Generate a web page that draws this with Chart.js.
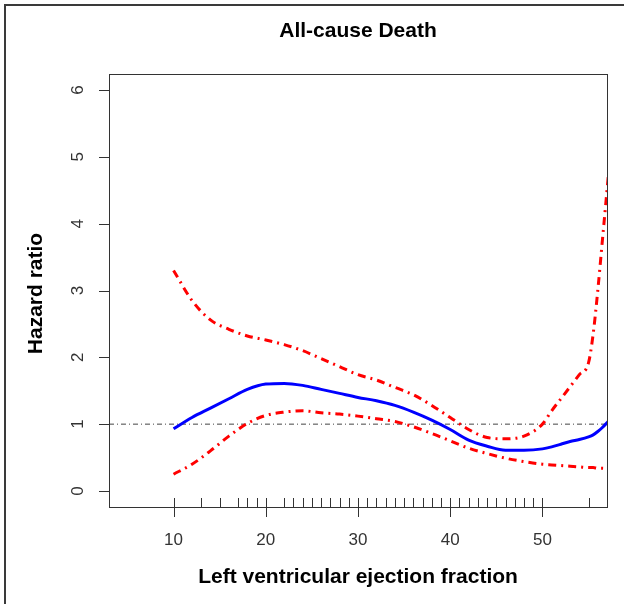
<!DOCTYPE html>
<html>
<head>
<meta charset="utf-8">
<title>All-cause Death</title>
<script src="https://cdn.jsdelivr.net/npm/chart.js@4.4.1/dist/chart.umd.min.js"></script>
<style>
  html, body { margin: 0; padding: 0; background: #fff; }
</style>
</head>
<body>
<canvas id="hr-chart" width="624" height="604"></canvas>
<script>
// LVEF grid and the spline estimates
var ejectionFraction = [10, 12, 14, 16, 18, 20, 22, 24, 26, 28, 30, 32, 34, 36, 38, 40, 42, 44, 46, 48, 50, 51, 52, 53, 54, 55, 55.5, 56, 56.5, 57.2];
var hazardRatio = [0.93, 1.10, 1.24, 1.38, 1.52, 1.60, 1.61, 1.58, 1.52, 1.46, 1.40, 1.35, 1.28, 1.18, 1.06, 0.92, 0.76, 0.67, 0.61, 0.61, 0.63, 0.66, 0.70, 0.74, 0.77, 0.81, 0.84, 0.89, 0.95, 1.05];
var upperCI = [3.30, 2.85, 2.56, 2.42, 2.32, 2.26, 2.19, 2.10, 1.98, 1.86, 1.74, 1.66, 1.55, 1.44, 1.28, 1.10, 0.92, 0.80, 0.78, 0.82, 1.00, 1.20, 1.38, 1.56, 1.74, 1.92, 2.35, 3.00, 3.75, 4.80];
var lowerCI = [0.25, 0.40, 0.60, 0.82, 1.01, 1.13, 1.18, 1.20, 1.17, 1.15, 1.12, 1.08, 1.04, 0.96, 0.86, 0.75, 0.64, 0.56, 0.49, 0.44, 0.40, 0.39, 0.38, 0.37, 0.36, 0.35, 0.35, 0.34, 0.34, 0.33];
var rugValues = [10, 13, 15, 17, 18, 19, 20, 22, 23, 24, 25, 26, 27, 28, 29, 30, 31, 32, 33, 34, 35, 36, 37, 38, 39, 40, 41, 42, 43, 44, 45, 46, 47, 48, 49, 50, 55];
var xTicks = [10, 20, 30, 40, 50];
var yTicks = [0, 1, 2, 3, 4, 5, 6];

function pts(ys) {
    return ejectionFraction.map(function (x, i) { return { x: x, y: ys[i] }; });
}

// R style frame: box, axes, rug, titles
var rFrame = {
    id: 'rFrame',
    afterDraw: function (chart) {
        var c = chart.ctx, a = chart.chartArea;
        var xs = chart.scales.x, ys = chart.scales.y;
        c.save();

        // outer border (left + top only)
        c.strokeStyle = '#3a3a3a';
        c.lineWidth = 2;
        c.beginPath();
        c.moveTo(5, 604); c.lineTo(5, 5); c.lineTo(624, 5);
        c.stroke();

        c.strokeStyle = '#333';
        c.lineWidth = 1;
        c.strokeRect(a.left + 0.5, a.top + 0.5, a.right - a.left, a.bottom - a.top);

        c.beginPath();
        rugValues.forEach(function (v) {
            var px = Math.round(xs.getPixelForValue(v)) + 0.5;
            c.moveTo(px, a.bottom - 9); c.lineTo(px, a.bottom);
        });
        xTicks.forEach(function (v) {
            var px = Math.round(xs.getPixelForValue(v)) + 0.5;
            c.moveTo(px, a.bottom); c.lineTo(px, a.bottom + 10);
        });
        yTicks.forEach(function (v) {
            var py = Math.round(ys.getPixelForValue(v)) + 0.5;
            c.moveTo(a.left - 10, py); c.lineTo(a.left, py);
        });
        c.stroke();

        c.fillStyle = '#333';
        c.font = '17px "Liberation Sans", Arial, sans-serif';
        c.textAlign = 'center';
        c.textBaseline = 'middle';
        xTicks.forEach(function (v) {
            c.fillText(String(v), xs.getPixelForValue(v), 540);
        });
        yTicks.forEach(function (v) {
            c.save();
            c.translate(78, ys.getPixelForValue(v));
            c.rotate(-Math.PI / 2);
            c.fillText(String(v), 0, 0);
            c.restore();
        });

        c.fillStyle = '#000';
        c.font = 'bold 21px "Liberation Sans", Arial, sans-serif';
        var mid = (a.left + a.right) / 2;
        c.fillText('All-cause Death', mid, 31);
        c.fillText('Left ventricular ejection fraction', mid, 577);
        c.save();
        c.translate(36, (a.top + a.bottom) / 2 + 3);
        c.rotate(-Math.PI / 2);
        c.fillText('Hazard ratio', 0, 0);
        c.restore();

        c.restore();
    }
};

var ctx = document.getElementById('hr-chart').getContext('2d');
var hrChart = new Chart(ctx, {
    type: 'line',
    data: {
        datasets: [
            {
                label: 'HR',
                data: pts(hazardRatio),
                borderColor: '#0000ff',
                borderWidth: 3,
                order: 0
            },
            {
                label: 'Upper 95% CI',
                data: pts(upperCI),
                borderColor: '#ff0000',
                borderWidth: 3,
                borderDash: [8, 5, 2, 5],
                order: 1
            },
            {
                label: 'Lower 95% CI',
                data: pts(lowerCI),
                borderColor: '#ff0000',
                borderWidth: 3,
                borderDash: [8, 5, 2, 5],
                order: 2
            },
            {
                label: 'HR = 1',
                data: [{ x: 3, y: 1 }, { x: 57, y: 1 }],
                borderColor: '#444',
                borderWidth: 1,
                borderDash: [5, 3, 1, 3],
                order: 3
            }
        ]
    },
    options: {
        responsive: false,
        animation: false,
        devicePixelRatio: 1,
        layout: { padding: { left: 109, top: 74, right: 17, bottom: 97 } },
        datasets: { line: { clip: 0, cubicInterpolationMode: 'monotone', pointRadius: 0, fill: false } },
        scales: {
            x: { type: 'linear', min: 3, max: 57, display: false },
            y: { type: 'linear', min: -0.24, max: 6.24, display: false }
        },
        plugins: {
            legend: { display: false },
            tooltip: { enabled: false }
        }
    },
    plugins: [rFrame]
});
</script>
</body>
</html>
